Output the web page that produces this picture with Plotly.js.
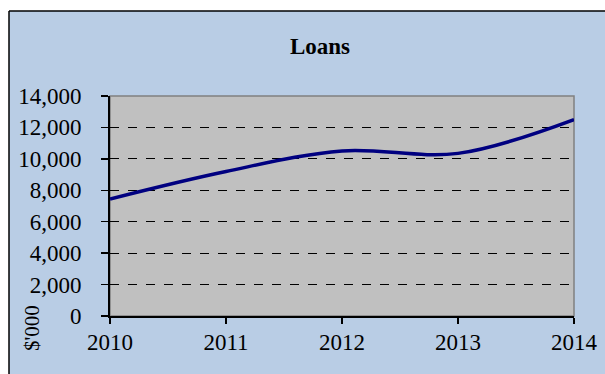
<!DOCTYPE html>
<html>
<head>
<meta charset="utf-8">
<script src="https://cdn.plot.ly/plotly-3.0.1.min.js"></script>
<style>html,body{margin:0;padding:0;background:#fff;}#chart{width:605px;height:374px;}</style>
</head>
<body>
<div id="chart"></div>
<script>
const years = [2010, 2011, 2012, 2013, 2014];
const loans = [7450, 9200, 10500, 10350, 12500];
const yTicks = [0, 2000, 4000, 6000, 8000, 10000, 12000, 14000];
const xTicks = [2010, 2011, 2012, 2013, 2014];
const chartTitle = 'Loans';
const yUnit = "$'000";

const L = 110, R = 31, T = 96, B = 58, W = 605, H = 374;
const pw = W - L - R, ph = H - T - B;
const px = v => (v - L) / pw;
const py = v => (H - B - v) / ph;
const serif = '"Liberation Serif", "Times New Roman", serif';

const trace = {
  x: years, y: loans, type: 'scatter', mode: 'lines',
  line: {color: '#000080', width: 3.5, shape: 'spline', smoothing: 1},
  hoverinfo: 'skip'
};

const layout = {
  width: W, height: H,
  margin: {l: L, r: R, t: T, b: B, pad: 0},
  paper_bgcolor: '#B9CDE5',
  plot_bgcolor: '#C0C0C0',
  showlegend: false,
  font: {family: serif, color: '#000', size: 23},
  separators: '.,',
  title: {text: '<b>' + chartTitle + '</b>', font: {family: serif, size: 23, color: '#000'},
          x: 320 / W, xref: 'container', xanchor: 'center', y: 1 - 46 / H, yref: 'container', yanchor: 'middle'},
  xaxis: {range: [2010, 2014], tickvals: xTicks, ticktext: xTicks.map(String),
          showgrid: false, zeroline: false, showline: true, linecolor: '#000', linewidth: 2,
          ticks: 'outside', ticklen: 6, tickwidth: 1.5, tickcolor: '#000',
          ticklabelstandoff: -2, tickfont: {family: serif, size: 23, color: '#000'}, fixedrange: true},
  yaxis: {range: [0, 14000], tickvals: yTicks, tickformat: ',d',
          showgrid: true, gridcolor: '#000', griddash: 'dash', gridwidth: 1.2,
          zeroline: false, showline: true, linecolor: '#000', linewidth: 2,
          ticks: 'outside', ticklen: 7, tickwidth: 1.5, tickcolor: '#000',
          ticklabelstandoff: 15, tickfont: {family: serif, size: 23, color: '#000'}, fixedrange: true},
  shapes: [
    {type: 'rect', xref: 'paper', yref: 'paper', x0: 0, x1: 1, y0: 0, y1: 1,
     line: {color: '#808080', width: 1.5}, layer: 'between'},
    {type: 'rect', xref: 'paper', yref: 'paper', x0: px(-5), x1: px(9), y0: py(-5), y1: py(380),
     fillcolor: '#fff', line: {width: 0}, layer: 'above'},
    {type: 'rect', xref: 'paper', yref: 'paper', x0: px(-5), x1: px(610), y0: py(-5), y1: py(11),
     fillcolor: '#fff', line: {width: 0}, layer: 'above'},
    {type: 'line', xref: 'paper', yref: 'paper', x0: px(9), x1: px(9), y0: py(11), y1: py(380),
     line: {color: '#000', width: 1.5}, layer: 'above'},
    {type: 'line', xref: 'paper', yref: 'paper', x0: px(9), x1: px(610), y0: py(11), y1: py(11),
     line: {color: '#000', width: 1.5}, layer: 'above'}
  ],
  annotations: [
    {text: yUnit, xref: 'paper', yref: 'paper', x: px(32), y: py(328), textangle: -90,
     showarrow: false, xanchor: 'center', yanchor: 'middle', font: {family: serif, size: 21, color: '#000'}}
  ]
};

Plotly.newPlot('chart', [trace], layout, {displayModeBar: false, staticPlot: true});
</script>
</body>
</html>
